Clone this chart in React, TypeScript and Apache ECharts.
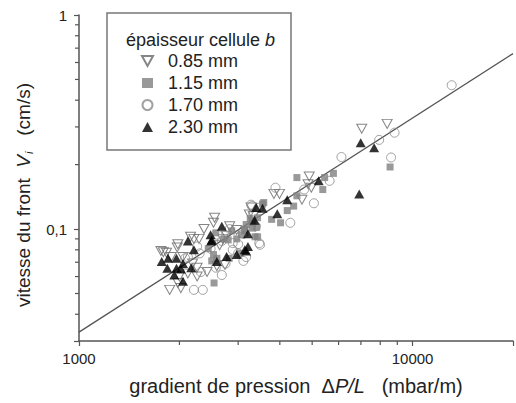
import React, { useEffect, useRef } from "react";
import * as echarts from "echarts";

// ---- data (x: pressure gradient mbar/m, y: front velocity cm/s) ----
const seriesNames = ["0.85 mm", "1.15 mm", "1.70 mm", "2.30 mm"];

const d085: [number, number][] = [
  [7040, 0.294], [8390, 0.31], [4900, 0.176], [4860, 0.162], [4970, 0.156],
  [3840, 0.146], [3990, 0.146], [4660, 0.137], [3240, 0.117], [3330, 0.115],
  [3280, 0.126], [2550, 0.113], [2830, 0.103], [2370, 0.1], [2210, 0.09],
  [2290, 0.09], [2160, 0.092], [1978, 0.085], [1970, 0.082], [1790, 0.078],
  [1760, 0.079], [1830, 0.0775], [2260, 0.066], [2590, 0.067], [2740, 0.068],
  [2120, 0.062], [2260, 0.06], [2420, 0.063], [2000, 0.06], [1980, 0.056],
  [1870, 0.052], [2020, 0.053], [1890, 0.074], [2190, 0.069], [2970, 0.099],
  [2640, 0.084], [2700, 0.09], [2770, 0.093], [2530, 0.107], [2050, 0.074],
];

const d115: [number, number][] = [
  [8560, 0.195], [4500, 0.174], [5790, 0.182], [5450, 0.174], [5380, 0.153],
  [4500, 0.143], [4400, 0.128], [4210, 0.122], [4020, 0.107], [3780, 0.111],
  [3580, 0.133], [3550, 0.131], [3310, 0.101], [3430, 0.092], [3260, 0.112],
  [3310, 0.109], [3410, 0.102], [3170, 0.105], [3140, 0.0995], [3310, 0.107],
  [3430, 0.113], [2970, 0.09], [3070, 0.094], [3140, 0.098], [2720, 0.09],
  [2870, 0.098], [2440, 0.081], [2570, 0.096], [2530, 0.076], [2590, 0.073],
  [2500, 0.071], [2820, 0.073], [3040, 0.077], [2540, 0.056], [3370, 0.092],
  [2800, 0.089],
];

const d170: [number, number][] = [
  [13100, 0.47], [7940, 0.261], [8830, 0.282], [8620, 0.216], [6120, 0.217],
  [5640, 0.168], [4730, 0.153], [3880, 0.156], [5060, 0.132], [4300, 0.107],
  [3300, 0.128], [3470, 0.126], [3490, 0.0845], [3280, 0.13], [3330, 0.117],
  [3110, 0.095], [2890, 0.086], [3000, 0.085], [3000, 0.077], [2680, 0.061],
  [2210, 0.052], [2350, 0.052], [2570, 0.066], [2750, 0.069], [2300, 0.077],
  [2890, 0.08], [3110, 0.071], [3170, 0.074], [3390, 0.103], [3470, 0.086],
  [2080, 0.073], [2120, 0.074], [2320, 0.063], [2480, 0.081], [2680, 0.088],
  [2600, 0.094], [2830, 0.1], [2260, 0.083],
];

const d230: [number, number][] = [
  [6990, 0.253], [7670, 0.24], [6920, 0.146], [5230, 0.168], [4210, 0.137],
  [3930, 0.118], [3550, 0.125], [3400, 0.126], [3360, 0.11], [3210, 0.083],
  [3170, 0.079], [3140, 0.08], [2970, 0.076], [2680, 0.103], [2480, 0.094],
  [2500, 0.089], [2490, 0.088], [2120, 0.088], [2210, 0.08], [1850, 0.073],
  [1770, 0.0705], [1840, 0.0656], [1960, 0.073], [2050, 0.069], [2020, 0.065],
  [2170, 0.066], [1960, 0.0656], [1930, 0.061], [2050, 0.057], [2590, 0.0705],
  [2770, 0.0745], [3210, 0.095],
];

const fitX = [1000, 20000];
const fitY = [0.033, 0.66];

const xRange = [1000, 20000];
const yRange = [0.03, 1];
const xMinorTicks = [2000, 3000, 4000, 5000, 6000, 7000, 8000, 9000];
const yMinorTicks = [0.04, 0.05, 0.06, 0.07, 0.08, 0.09, 0.2, 0.3, 0.4, 0.5, 0.6, 0.7, 0.8, 0.9];

const FONT = "'Liberation Sans', Arial, sans-serif";
const AXIS_COLOR = "#555";

function decadeLabel(v: number): string {
  const l = Math.log10(v);
  const r = Math.round(l);
  if (Math.abs(l - r) > 1e-6) return "";
  if (r < 0) return "0," + "0".repeat(-r - 1) + "1";
  return String(Math.round(Math.pow(10, r)));
}

export default function App() {
  const ref = useRef<HTMLDivElement>(null);
  useEffect(() => {
    if (!ref.current) return;
    const chart = echarts.init(ref.current, undefined, { renderer: "svg" });
    // the partner coordinate of each minor tick is an interior value; the tick is
    // drawn on the grid edge taken from the coordinate system itself
    const xTickData = xMinorTicks.map((v) => [v, 0.1]);
    const yTickData = yMinorTicks.map((v) => [3000, v]);
    const option: any = {
      animation: false,
      backgroundColor: "#fff",
      textStyle: { fontFamily: FONT },
      grid: { left: 79, right: -7, top: 15, bottom: 62, containLabel: false },
      xAxis: {
        type: "log",
        logBase: 10,
        min: xRange[0],
        max: xRange[1],
        name: "gradient de pression  Δ{it|P/L}   (mbar/m)",
        nameLocation: "middle",
        nameGap: 35,
        nameTextStyle: {
          fontSize: 20,
          color: "#222",
          fontFamily: FONT,
          rich: { it: { fontSize: 20, fontStyle: "italic", color: "#222", fontFamily: FONT } },
        },
        axisLine: { lineStyle: { color: AXIS_COLOR, width: 1.5 } },
        axisTick: { length: 5, lineStyle: { color: AXIS_COLOR, width: 1.2 } },
        axisLabel: { formatter: decadeLabel, fontSize: 15, color: "#222", margin: 10, fontFamily: FONT },
        splitLine: { show: false },
      },
      yAxis: {
        type: "log",
        logBase: 10,
        min: yRange[0],
        max: yRange[1],
        name: "vitesse du front  {it|V}{sub|i}   (cm/s)",
        nameLocation: "middle",
        nameGap: 45,
        nameTextStyle: {
          fontSize: 19,
          color: "#222",
          fontFamily: FONT,
          padding: [0, 34, 0, 0],
          rich: {
            it: { fontSize: 19, fontStyle: "italic", color: "#222", fontFamily: FONT },
            sub: { fontSize: 11, fontStyle: "italic", color: "#222", fontFamily: FONT, padding: [10, 0, 0, 1] },
          },
        },
        axisLine: { lineStyle: { color: AXIS_COLOR, width: 1.5 } },
        axisTick: { length: 5, lineStyle: { color: AXIS_COLOR, width: 1.2 } },
        axisLabel: { formatter: decadeLabel, fontSize: 15, color: "#222", margin: 12, fontFamily: FONT },
        splitLine: { show: false },
      },
      legend: {
        orient: "vertical",
        left: 141,
        top: 50,
        padding: 0,
        itemGap: 0,
        itemWidth: 11,
        itemHeight: 10,
        data: seriesNames,
        textStyle: { fontSize: 18, lineHeight: 22, color: "#222", fontFamily: FONT, padding: [0, 0, 0, 10] },
        selectedMode: false,
      },
      graphic: [
        {
          type: "rect",
          shape: { x: 107, y: 13, width: 184, height: 137 },
          style: { fill: "none", stroke: "#777", lineWidth: 1.5 },
          z: 10,
        },
        {
          type: "text",
          x: 126,
          y: 40,
          z: 10,
          style: {
            text: "épaisseur cellule {i|b}",
            fontSize: 18,
            fontFamily: FONT,
            fill: "#222",
            verticalAlign: "middle",
            rich: { i: { fontSize: 18, fontStyle: "italic", fontFamily: FONT, fill: "#222" } },
          },
        },
      ],
      series: [
        {
          type: "line",
          name: "fit",
          data: fitX.map((x, i) => [x, fitY[i]]),
          showSymbol: false,
          symbol: "none",
          lineStyle: { color: "#555", width: 1.3 },
          silent: true,
          z: 1,
        },
        {
          type: "scatter",
          name: seriesNames[0],
          data: d085,
          symbol: "path://M0 0 L10 0 L5 9 Z",
          symbolSize: [10, 9],
          itemStyle: { color: "rgba(0,0,0,0)", borderColor: "#666", borderWidth: 1 },
          z: 3,
        },
        {
          type: "scatter",
          name: seriesNames[1],
          data: d115,
          symbol: "rect",
          symbolSize: 7,
          itemStyle: { color: "#808080" },
          z: 3,
        },
        {
          type: "scatter",
          name: seriesNames[2],
          data: d170,
          symbol: "circle",
          symbolSize: 9,
          itemStyle: { color: "rgba(0,0,0,0)", borderColor: "#8a8a8a", borderWidth: 1 },
          z: 3,
        },
        {
          type: "scatter",
          name: seriesNames[3],
          data: d230,
          symbol: "triangle",
          symbolSize: [10, 9],
          itemStyle: { color: "#000" },
          z: 4,
        },
        {
          type: "custom",
          name: "xMinorTicks",
          silent: true,
          clip: false,
          encode: { x: 0, y: 1 },
          data: xTickData,
          renderItem: (params: any, api: any) => {
            const cs = params.coordSys;
            const pt = api.coord([api.value(0), api.value(1)]);
            const y0 = cs.y + cs.height;
            return {
              type: "rect",
              shape: { x: pt[0] - 0.6, y: y0, width: 1.2, height: 4 },
              style: { fill: AXIS_COLOR },
            };
          },
          z: 20,
        },
        {
          type: "custom",
          name: "yMinorTicks",
          silent: true,
          clip: false,
          encode: { x: 0, y: 1 },
          data: yTickData,
          renderItem: (params: any, api: any) => {
            const cs = params.coordSys;
            const pt = api.coord([api.value(0), api.value(1)]);
            const x0 = cs.x;
            return {
              type: "rect",
              shape: { x: x0 - 4, y: pt[1] - 0.6, width: 4, height: 1.2 },
              style: { fill: AXIS_COLOR },
            };
          },
          z: 20,
        },
      ],
    };
    chart.setOption(option);
    return () => chart.dispose();
  }, []);
  return (
    <div
      ref={ref}
      style={{ position: "fixed", left: 0, top: 0, width: 516, height: 403, background: "#fff" }}
    />
  );
}
